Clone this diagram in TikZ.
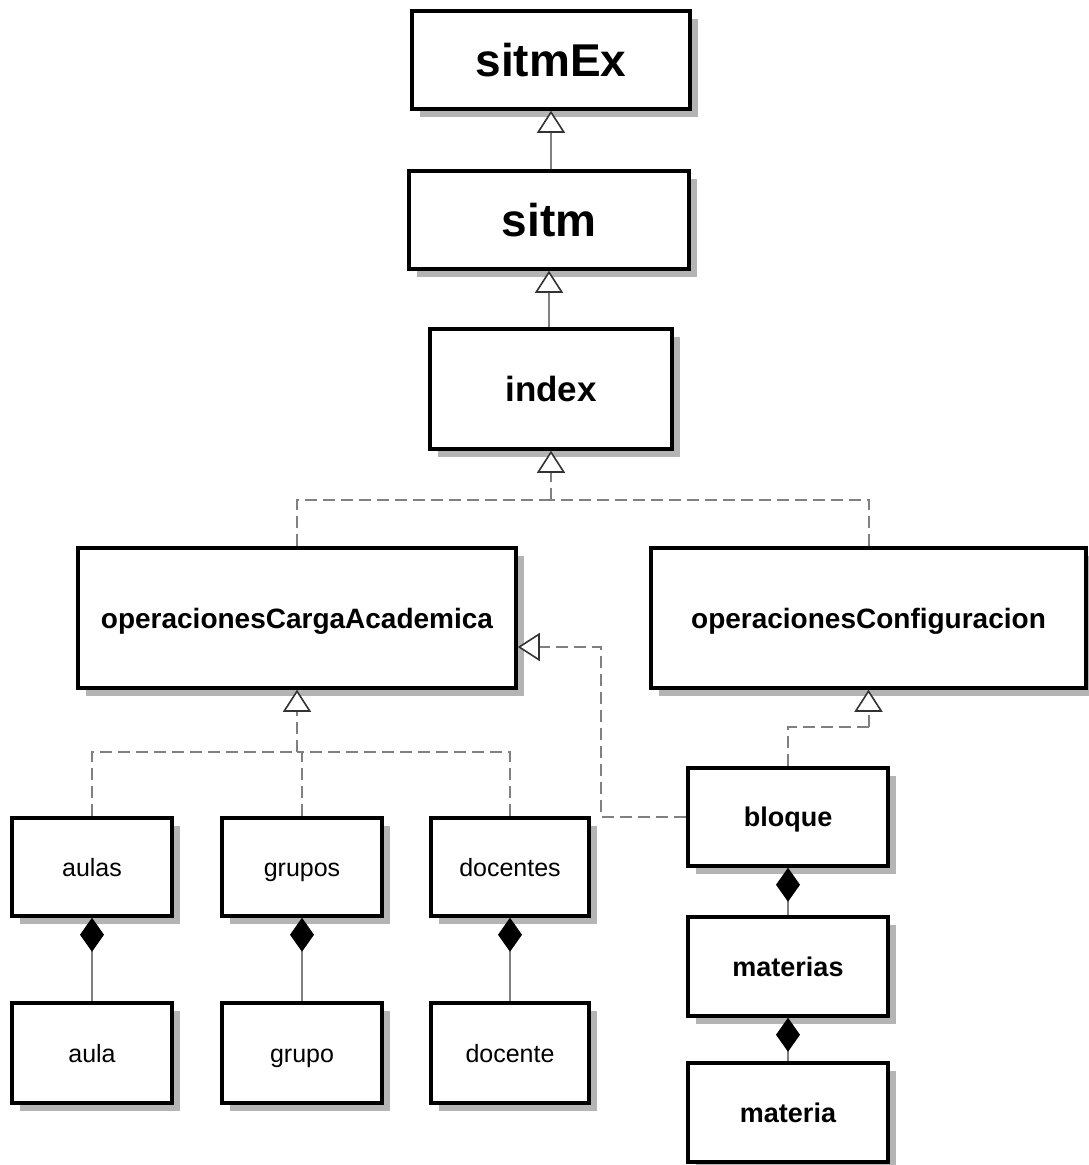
\documentclass[tikz,border=0pt]{standalone}
\usepackage{fontspec}
\setmainfont{Liberation Sans}
\usetikzlibrary{arrows.meta,shadows}
\definecolor{conn}{HTML}{808080}
\definecolor{shade}{HTML}{B4B4B4}
\begin{document}
\begin{tikzpicture}[x=1pt,y=-1pt,
  cls/.style={draw=black, line width=3.5pt, fill=white, inner sep=0pt, text depth=0pt,
    drop shadow={shadow xshift=8pt, shadow yshift=-8pt, fill=shade, opacity=1}},
  big/.style={font=\fontsize{46}{52}\selectfont\bfseries, text height=33pt},
  mid/.style={font=\fontsize{35}{40}\selectfont\bfseries, text height=25pt},
  wide/.style={font=\fontsize{28}{32}\selectfont\bfseries, text height=20pt},
  small/.style={font=\fontsize{25}{30}\selectfont, text height=18pt},
  smallb/.style={font=\fontsize{27}{30}\selectfont\bfseries, text height=19.5pt},
  gen/.style={draw=conn, line width=2pt,
    -{Triangle[length=22pt, width=28pt, fill=white, color=black!80, line width=1.6pt]}},
  realz/.style={gen, dash pattern=on 12pt off 6pt},
  dline/.style={draw=conn, line width=2pt, dash pattern=on 12pt off 6pt},
  comp/.style={draw=conn, line width=2.5pt,
    {Diamond[length=34pt, width=24pt, fill=black, color=black]}-}
]
\useasboundingbox (0,0) rectangle (1088,1165);

\node[cls, big, minimum width=278, minimum height=98] (sitmEx) at (551,60) {sitmEx};
\node[cls, big, minimum width=280, minimum height=98] (sitm) at (549,220) {sitm};
\node[cls, mid, minimum width=242, minimum height=120] (index) at (551,389) {index};
\node[cls, wide, minimum width=438, minimum height=140] (opCA) at (297,618) {operacionesCargaAcademica};
\node[cls, wide, minimum width=435, minimum height=140] (opConf) at (868.5,618) {operacionesConfiguracion};

\node[cls, small, minimum width=160, minimum height=98] (aulas) at (92,867) {aulas};
\node[cls, small, minimum width=160, minimum height=98] (grupos) at (302,867) {grupos};
\node[cls, small, minimum width=158, minimum height=98] (docentes) at (510,867) {docentes};
\node[cls, small, minimum width=160, minimum height=100] (aula) at (92,1053) {aula};
\node[cls, small, minimum width=160, minimum height=100] (grupo) at (302,1053) {grupo};
\node[cls, small, minimum width=158, minimum height=100] (docente) at (510,1053) {docente};

\node[cls, smallb, minimum width=200, minimum height=98] (bloque) at (788,817) {bloque};
\node[cls, smallb, minimum width=200, minimum height=99] (materias) at (788,966.5) {materias};
\node[cls, smallb, minimum width=200, minimum height=99] (materia) at (788,1112.5) {materia};

% generalizations
\draw[gen] (sitmEx.south |- sitm.north) -- (sitmEx.south);
\draw[gen] (sitm.south |- index.north) -- (sitm.south);

% realizations to index
\coordinate (j1) at (551,500);
\draw[dline] (opCA.north) |- (j1);
\draw[dline] (opConf.north) |- (j1);
\draw[realz] (j1) -- (index.south);

% bloque -> opCA
\coordinate (b1) at (601,647);
\draw[realz] (bloque.west) -| (b1) -- (opCA.east |- b1);

% bloque -> opConf
\coordinate (b2) at (868.5,727);
\draw[dline] (bloque.north) |- (b2);
\draw[realz] (b2) -- (opConf.south);

% aulas/grupos/docentes -> opCA
\coordinate (j2) at (297,752);
\draw[dline] (aulas.north) |- (j2);
\draw[dline] (grupos.north) |- (j2);
\draw[dline] (docentes.north) |- (j2);
\draw[realz] (j2) -- (opCA.south);

% compositions
\draw[comp] (aulas.south) -- (aula.north);
\draw[comp] (grupos.south) -- (grupo.north);
\draw[comp] (docentes.south) -- (docente.north);
\draw[comp] (bloque.south) -- (materias.north);
\draw[comp] (materias.south) -- (materia.north);
\end{tikzpicture}
\end{document}
